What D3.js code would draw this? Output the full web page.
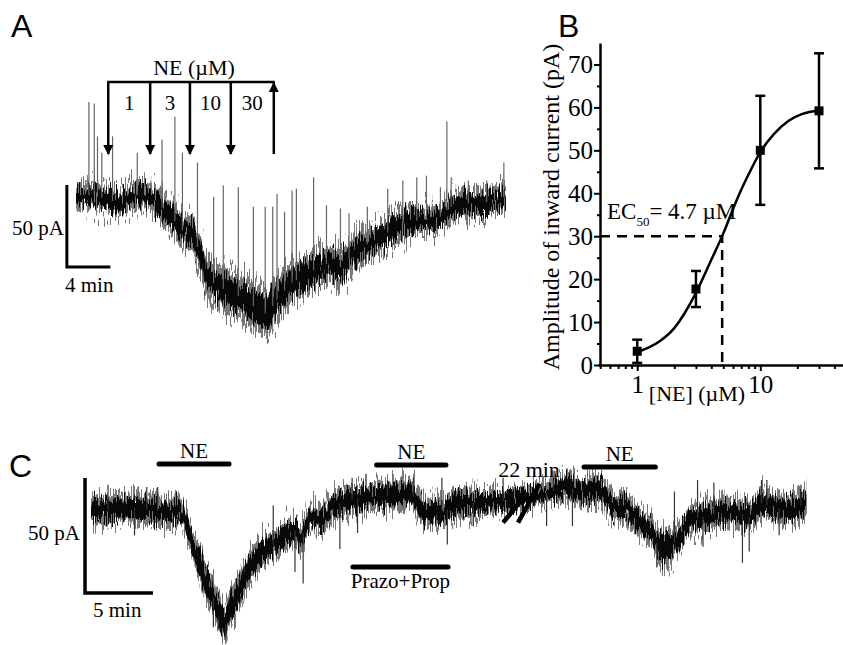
<!DOCTYPE html>
<html>
<head>
<meta charset="utf-8">
<script src="https://cdn.jsdelivr.net/npm/d3@7"></script>
<style>
  body { margin: 0; background: #fff; }
  svg { display: block; font-family: "Liberation Serif", "Times New Roman", serif; }
  svg text { font-family: "Liberation Serif", "Times New Roman", serif; }
  svg text.panel { font-family: "Liberation Sans", Arial, sans-serif; font-size: 32px; }
</style>
</head>
<body>
<div id="fig"></div>
<script>
// ---- Panel A: cumulative NE applications (time in min, current in pA, 0 = baseline)
const aTime  = [0, 1.6, 3.2, 4.1, 5.3, 6.6, 7.8, 9.0, 10.0, 10.9, 11.5, 12.2, 13.1, 14.0, 15.0, 15.9, 17.1, 17.6, 18.0, 18.5, 19.9, 22.0, 23.6, 24.7, 25.8, 27.3, 28.9, 30.4, 32.0, 33.6, 34.8, 36.4, 38.2, 40.0];
const aMean  = [1, 1, -2, -4, 1, 1, -5, -13, -21, -23, -34, -50, -54, -57, -60, -64, -69, -71, -70, -64, -53, -45, -40, -43, -34, -28, -22, -16, -14, -14, -6, -4, -3, 0];
const aNoise = [5, 5, 5, 5, 5, 5, 5, 6, 6, 7, 7, 8, 8, 8, 9, 9, 9, 9, 9, 9, 8, 7, 7, 7, 7, 6, 6, 6, 5, 5, 5, 5, 5, 5];
const aSpikeT = [1.2, 1.7, 2.0, 2.4, 3.4, 5.7, 8.0, 9.2, 9.9, 11.3, 12.8, 13.7, 15.1, 16.5, 17.6, 18.3, 18.7, 19.4, 20.1, 20.5, 22.1, 23.3, 24.6, 25.4, 27.1, 29.0, 30.4, 31.7, 32.6, 33.9, 34.5, 34.9, 36.5, 38.2, 39.8];
const aSpikeI = [58, 57, 37, 27, 37, 27, 35, 49, 27, 21, 0, 7, 6, -6, -6, -6, 2, -9, 4, 5, 12, -5, -7, -10, -6, 5, 10, 12, 13, 6, 46, 12, 10, 10, 21];
const aArrowT = [3.0, 6.9, 10.6, 14.4];
const aWashT = 18.4;
const aConc = ["1", "3", "10", "30"];

// ---- Panel B: concentration-response
const bConc = [1, 3, 10, 30];
const bAmp  = [3.2, 17.7, 50.0, 59.2];
const bErr  = [2.7, 4.2, 12.7, 13.4];
const bFitX = [1, 1.5, 2, 3, 4, 5, 6, 7, 8, 10, 13, 17, 22, 30];
const bFitY = [3.0, 5.4, 8.6, 16.8, 24.5, 30.6, 36.3, 40.8, 44.3, 49.6, 53.9, 56.9, 58.5, 59.3];
const bYTicks = [0, 10, 20, 30, 40, 50, 60, 70];
const bXTicks = [1, 10];
const bXMinor = [0.5, 0.6, 0.7, 0.8, 0.9, 2, 3, 4, 5, 6, 7, 8, 9, 20, 30, 40];
const ecX = 4.9, ecY = 30;

// ---- Panel C: NE, then NE with prazosin + propranolol
const cTime  = [0, 1.4, 3.1, 4.3, 5.6, 6.5, 7.1, 7.5, 8.0, 8.5, 9.0, 9.6, 9.9, 10.2, 10.7, 11.5, 12.2, 12.9, 13.7, 14.4, 15.1, 15.4, 16.1, 17.1, 17.8, 19.0, 20.3, 21.5, 22.7, 23.5, 24.4, 25.4, 26.2, 26.9, 28.4, 29.9, 30.8, 33.2, 35.0, 36.0, 37.6, 38.4, 39.4, 40.4, 41.3, 41.8, 42.6, 43.3, 44.0, 45.0, 46.3, 47.5, 48.5, 49.2, 50.4, 51.6, 52.6];
const cMean  = [0, 0, 1, 0, -1, 0, -7, -16, -23, -32, -38, -47, -50, -43, -38, -27, -20, -17, -14, -10, -9, -13, -3, -4, 2, 4, 6, 6, 7, 8, -1, -1, 0, 3, 3, 4, 4, 7, 10, 8, 9, 1, 1, -6, -10, -17, -16, -12, -4, -3, -1, -1, -3, 3, 1, 0, 3];
const cNoise = [4, 4, 4, 4, 4, 4, 4, 4, 5, 5, 5, 5, 5, 5, 5, 5, 5, 4, 4, 4, 4, 4, 4, 4, 4, 4, 4, 4, 4, 4, 4, 4, 4, 4, 4, 3, 3, 3, 4, 4, 4, 4, 4, 4, 4, 5, 5, 4, 4, 4, 4, 4, 4, 4, 4, 4, 4];
const cSpikeT = [1.25, 3.2, 4.1, 4.9, 9.0, 9.9, 13.4, 15.0, 15.6, 18.3, 19.2, 19.6, 21.8, 23.7, 25.8, 26.2, 28.1, 30.3, 33.5, 34.0, 35.4, 41.6, 42.9, 44.6, 45.0, 45.8, 47.9, 48.4, 49.3, 49.7, 50.6, 52.2];
const cSpikeI = [11, -11, 10, 10, -51, -56, 2, -27, -32, -17, 14, -10, 13, 14, 14, -15, -7, 14, -7, 13, -7, -25, 8, 13, -16, 12, -23, -18, 13, 13, -11, 11];
const cNE = [[5.0, 10.15], [21.0, 26.1], [36.25, 41.5]];
const cBlock = [19.26, 26.25];

const width = 843, height = 645;
const serif = '"Liberation Serif", "Times New Roman", serif';
const svg = d3.select("#fig").append("svg")
  .attr("width", width)
  .attr("height", height);
const defs = svg.append("defs");

// jitter filter: shifts each pixel column up/down so the band edges look like recording noise
function jitter(id, seed, freq, scale) {
  const f = defs.append("filter").attr("id", id)
    .attr("x", "-2%").attr("y", "-40%").attr("width", "104%").attr("height", "180%")
    .attr("color-interpolation-filters", "sRGB");
  f.append("feTurbulence").attr("type", "fractalNoise")
    .attr("baseFrequency", freq).attr("numOctaves", 2).attr("seed", seed).attr("result", "turb");
  f.append("feColorMatrix").attr("in", "turb").attr("type", "matrix")
    .attr("values", "1.6 0 0 0 -0.3  0 0 0 0 0.5  0 0 0 0 0  0 0 0 0 1").attr("result", "map");
  f.append("feDisplacementMap").attr("in", "SourceGraphic").attr("in2", "map")
    .attr("scale", scale).attr("xChannelSelector", "G").attr("yChannelSelector", "R");
}
jitter("jitA1", 3, "0.9 0.04", 24);
jitter("jitA2", 11, "0.9 0.06", 34);
jitter("jitC1", 5, "0.9 0.05", 20);
jitter("jitC2", 17, "0.9 0.06", 28);

// noisy recording: gray sparse noise, dense black core, single spikes
function drawTrace(x, y, t, mean, noise, spikeT, spikeI, spikeColor, f1, f2) {
  const g = svg.append("g");
  const band = k => d3.area()
    .x((d, i) => x(t[i]))
    .y0((d, i) => y(mean[i] - k * noise[i]))
    .y1((d, i) => y(mean[i] + k * noise[i]));
  g.append("path").datum(t).attr("d", band(1.6))
    .attr("fill", "#777").attr("filter", `url(#${f2})`);
  g.append("path").datum(t).attr("d", band(1))
    .attr("fill", "#080808").attr("filter", `url(#${f1})`);
  const meanAt = d3.scaleLinear().domain(t).range(mean);
  g.selectAll("line.spike")
    .data(spikeT)
    .join("line")
    .attr("class", "spike")
    .attr("x1", d => x(d))
    .attr("x2", d => x(d))
    .attr("y1", d => y(meanAt(d)))
    .attr("y2", (d, i) => y(spikeI[i]))
    .attr("stroke", spikeColor)
    .attr("stroke-width", 1.2);
}

// ================= Panel A =================
const xA = d3.scaleLinear().domain([0, 40]).range([76, 506]);
const yA = d3.scaleLinear().domain([0, 50]).range([197, 115]);

svg.append("text").attr("class", "panel").attr("x", 11).attr("y", 37).text("A");

drawTrace(xA, yA, aTime, aMean, aNoise, aSpikeT, aSpikeI, "#666", "jitA1", "jitA2");

// scale bar 50 pA / 4 min
svg.append("path")
  .attr("d", `M${xA(-0.85)},${yA(7.3)}V${yA(-42.7)}H${xA(3.2)}`)
  .attr("fill", "none").attr("stroke", "#000").attr("stroke-width", 3);
svg.append("text").attr("x", 64).attr("y", 235).attr("text-anchor", "end")
  .style("font-size", "21px").text("50 pA");
svg.append("text").attr("x", 65).attr("y", 292)
  .style("font-size", "21px").text("4 min");

// application arrows
const arrowTop = 82, arrowTip = 154;
defs.append("marker")
  .attr("id", "head").attr("viewBox", "0 0 10 10")
  .attr("refX", 9).attr("refY", 5)
  .attr("markerWidth", 4).attr("markerHeight", 5)
  .attr("orient", "auto")
  .append("path").attr("d", "M0,0L10,5L0,10z").attr("fill", "#000");

svg.append("line")
  .attr("x1", xA(aArrowT[0]) - 1).attr("x2", xA(aWashT) + 1)
  .attr("y1", arrowTop).attr("y2", arrowTop)
  .attr("stroke", "#000").attr("stroke-width", 2.5);
svg.selectAll("line.arrow")
  .data(aArrowT)
  .join("line")
  .attr("class", "arrow")
  .attr("x1", d => xA(d)).attr("x2", d => xA(d))
  .attr("y1", arrowTop).attr("y2", arrowTip)
  .attr("stroke", "#000").attr("stroke-width", 2.5)
  .attr("marker-end", "url(#head)");
svg.append("line")
  .attr("x1", xA(aWashT)).attr("x2", xA(aWashT))
  .attr("y1", arrowTip).attr("y2", arrowTop + 1)
  .attr("stroke", "#000").attr("stroke-width", 2.5)
  .attr("marker-end", "url(#head)");

const aEdges = aArrowT.concat([aWashT]);
svg.selectAll("text.conc")
  .data(aConc)
  .join("text")
  .attr("class", "conc")
  .attr("x", (d, i) => (xA(aEdges[i]) + xA(aEdges[i + 1])) / 2)
  .attr("y", 110)
  .attr("text-anchor", "middle")
  .style("font-size", "21px")
  .text(d => d);
svg.append("text").attr("x", 194).attr("y", 75).attr("text-anchor", "middle")
  .style("font-size", "22px").text("NE (\u00b5M)");

// ================= Panel B =================
const xB = d3.scaleLog().domain([0.48, 47]).range([598, 843]);
const yB = d3.scaleLinear().domain([0, 75]).range([365, 43]);

svg.append("text").attr("class", "panel").attr("x", 558).attr("y", 37).text("B");

const yAxisB = svg.append("g")
  .attr("transform", `translate(${xB.range()[0] + 2},0)`)
  .call(d3.axisLeft(yB).tickValues(bYTicks).tickSize(6).tickSizeOuter(0).tickPadding(1));
yAxisB.select(".domain").attr("stroke-width", 2.5);
yAxisB.selectAll(".tick line").attr("stroke-width", 2);
yAxisB.selectAll(".tick text").style("font-family", serif).style("font-size", "25px");
svg.append("g")
  .attr("transform", `translate(${xB.range()[0] + 2},0)`)
  .call(d3.axisLeft(yB).tickValues(d3.range(5, 75, 10)).tickSize(3).tickFormat(""))
  .call(g => g.select(".domain").remove())
  .selectAll("line").attr("stroke-width", 2);

const xAxisB = svg.append("g")
  .attr("transform", `translate(0,${yB(0)})`)
  .call(d3.axisBottom(xB).tickValues(bXTicks).tickFormat(d3.format("d")).tickSize(6).tickSizeOuter(0).tickPadding(4));
xAxisB.select(".domain").attr("stroke-width", 2.5);
xAxisB.selectAll(".tick line").attr("stroke-width", 2);
xAxisB.selectAll(".tick text").style("font-family", serif).style("font-size", "25px");
svg.append("g")
  .attr("transform", `translate(0,${yB(0)})`)
  .call(d3.axisBottom(xB).tickValues(bXMinor).tickSize(4).tickFormat(""))
  .call(g => g.select(".domain").remove())
  .selectAll("line").attr("stroke-width", 2);

svg.append("text")
  .attr("transform", "translate(559,207) rotate(-90)")
  .attr("text-anchor", "middle")
  .style("font-size", "24px")
  .text("Amplitude of inward current (pA)");
svg.append("text").attr("x", 697).attr("y", 401).attr("text-anchor", "middle")
  .style("font-size", "22px").text("[NE] (\u00b5M)");

// EC50 guide lines
svg.append("path")
  .attr("d", `M${xB.range()[0] + 2},${yB(ecY)}H${xB(ecX)}V${yB(0)}`)
  .attr("fill", "none").attr("stroke", "#000").attr("stroke-width", 2.5)
  .attr("stroke-dasharray", "10 7");
const ec = svg.append("text").attr("x", 607).attr("y", 219).style("font-size", "23px");
ec.append("tspan").text("EC");
ec.append("tspan").attr("dy", 7).style("font-size", "13px").text("50");
ec.append("tspan").attr("dy", -7).text("= 4.7 \u00b5M");

// fitted curve
svg.append("path")
  .datum(bFitX)
  .attr("d", d3.line().x(d => xB(d)).y((d, i) => yB(bFitY[i])).curve(d3.curveMonotoneX))
  .attr("fill", "none").attr("stroke", "#000").attr("stroke-width", 2.5);

// error bars and points
const pts = svg.append("g");
pts.selectAll("line.err")
  .data(bConc)
  .join("line")
  .attr("class", "err")
  .attr("x1", d => xB(d)).attr("x2", d => xB(d))
  .attr("y1", (d, i) => yB(bAmp[i] - bErr[i]))
  .attr("y2", (d, i) => yB(bAmp[i] + bErr[i]))
  .attr("stroke", "#000").attr("stroke-width", 2.5);
[-1, 1].forEach(s => {
  pts.selectAll(`line.cap${s}`)
    .data(bConc)
    .join("line")
    .attr("class", `cap${s}`)
    .attr("x1", d => xB(d) - 5).attr("x2", d => xB(d) + 5)
    .attr("y1", (d, i) => yB(bAmp[i] + s * bErr[i]))
    .attr("y2", (d, i) => yB(bAmp[i] + s * bErr[i]))
    .attr("stroke", "#000").attr("stroke-width", 2.5);
});
pts.selectAll("rect")
  .data(bConc)
  .join("rect")
  .attr("x", d => xB(d) - 4.5)
  .attr("y", (d, i) => yB(bAmp[i]) - 4.5)
  .attr("width", 9).attr("height", 9)
  .attr("fill", "#000");

// ================= Panel C =================
const xC = d3.scaleLinear().domain([0, 53]).range([91, 811.8]);
const yC = d3.scaleLinear().domain([0, 50]).range([510, 395]);

svg.append("text").attr("class", "panel").attr("x", 9).attr("y", 477).text("C");

drawTrace(xC, yC, cTime, cMean, cNoise, cSpikeT, cSpikeI, "#333", "jitC1", "jitC2");

svg.append("path")
  .attr("d", `M${xC(-0.44)},${yC(13.9)}V${yC(-36.1)}H${xC(4.56)}`)
  .attr("fill", "none").attr("stroke", "#000").attr("stroke-width", 3.5);
svg.append("text").attr("x", 80).attr("y", 540).attr("text-anchor", "end")
  .style("font-size", "21px").text("50 pA");
svg.append("text").attr("x", 93).attr("y", 617)
  .style("font-size", "21px").text("5 min");

// drug bars
const neY = [464, 465, 467];
svg.selectAll("line.ne")
  .data(cNE)
  .join("line")
  .attr("class", "ne")
  .attr("x1", d => xC(d[0])).attr("x2", d => xC(d[1]))
  .attr("y1", (d, i) => neY[i]).attr("y2", (d, i) => neY[i])
  .attr("stroke", "#000").attr("stroke-width", 5).attr("stroke-linecap", "round");
svg.selectAll("text.ne")
  .data(cNE)
  .join("text")
  .attr("class", "ne")
  .attr("x", d => (xC(d[0]) + xC(d[1])) / 2)
  .attr("y", (d, i) => neY[i] - 6)
  .attr("text-anchor", "middle")
  .style("font-size", "21px")
  .text("NE");
svg.append("line")
  .attr("x1", xC(cBlock[0])).attr("x2", xC(cBlock[1]))
  .attr("y1", 567).attr("y2", 567)
  .attr("stroke", "#000").attr("stroke-width", 5).attr("stroke-linecap", "round");
svg.append("text")
  .attr("x", (xC(cBlock[0]) + xC(cBlock[1])) / 2).attr("y", 588)
  .attr("text-anchor", "middle").style("font-size", "21px").text("Prazo+Prop");

// 22 min break
[[30.3, 31.8], [31.4, 33.0]].forEach(([t0, t1], i) => {
  svg.append("line")
    .attr("x1", xC(t0)).attr("y1", yC(-5.5))
    .attr("x2", xC(t1)).attr("y2", yC(i ? 11.5 : 5.5))
    .attr("stroke", "#000").attr("stroke-width", 4.5);
});
svg.append("text").attr("x", 529).attr("y", 477).attr("text-anchor", "middle")
  .style("font-size", "22px").text("22 min");
</script>
</body>
</html>
